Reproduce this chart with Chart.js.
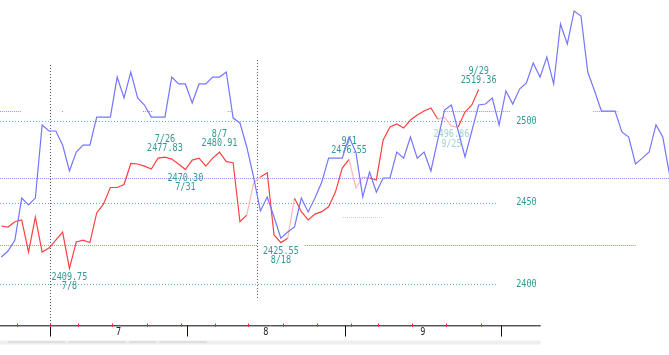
<!DOCTYPE html>
<html>
<head>
<meta charset="utf-8">
<script src="https://cdn.jsdelivr.net/npm/chart.js@4"></script>
<style>
  html, body { margin: 0; padding: 0; background: #fff; }
  #wrap { width: 669px; height: 355px; }
</style>
</head>
<body>
<div id="wrap"><canvas id="chart" width="669" height="355"></canvas></div>
<script>
// one value per trading day (index 0 = left edge)
const blueValues = [
  2416.7, 2420.4, 2427.1, 2452.8, 2448.6, 2452.8, 2497.6, 2493.9, 2493.9, 2485.3,
  2469.4, 2481.0, 2485.3, 2485.3, 2502.4, 2502.4, 2502.4, 2526.9, 2514.1, 2530.0,
  2514.1, 2509.8, 2502.4, 2502.4, 2502.4, 2526.9, 2522.7, 2522.7, 2511.0, 2522.7,
  2522.7, 2526.9, 2526.9, 2530.0, 2501.8, 2498.8, 2484.1, 2465.7, 2444.9, 2453.5,
  2441.2, 2428.3, 2432.0, 2435.1, 2452.8, 2444.3, 2452.8, 2462.6, 2477.3, 2477.3,
  2477.3, 2490.2, 2481.0, 2453.5, 2468.8, 2456.5, 2465.1, 2465.1, 2481.0, 2477.3,
  2490.2, 2477.3, 2481.0, 2469.4, 2488.4, 2506.7, 2509.8, 2493.9, 2478.0, 2493.9,
  2509.8, 2510.4, 2514.1, 2497.6, 2518.4, 2510.4, 2519.6, 2523.3, 2535.5, 2526.9,
  2539.2, 2522.7, 2559.4, 2547.2, 2567.4, 2564.3, 2530.0, 2518.4, 2506.1, 2506.1,
  2506.1, 2493.3, 2490.2, 2473.7, 2477.3, 2481.0, 2497.6, 2490.2, 2466.9
];
const redValues = [
  2435.7, 2435.1, 2438.3, 2439.4, 2419.8, 2441.2, 2419.8, 2422.2, 2427.1, 2432.0,
  2409.75, 2425.9, 2427.1, 2425.6, 2443.7, 2449.2, 2459.3, 2459.3, 2461.1, 2474.0,
  2473.7, 2472.4, 2470.6, 2477.3, 2477.83, 2476.7, 2473.7, 2470.30, 2476.1, 2477.3,
  2472.4, 2477.3, 2480.91, 2475.1, 2474.5, 2438.3, 2442.4, 2462.0, 2465.7, 2468.3,
  2430.2, 2425.55, 2428.2, 2452.7, 2444.5, 2439.4, 2443.0, 2444.5, 2447.5, 2456.5,
  2471.2, 2476.55, 2459.0, 2465.7, 2465.1, 2463.9, 2488.4, 2496.3, 2498.2, 2495.7,
  2500.6, 2503.7, 2506.1, 2508.0, 2501.2, 2502.4, 2496.86, 2496.3, 2505.5, 2509.8,
  2519.36
];
// red segments drawn in a faded tone (index of segment start)
const fadedRed = [36, 37, 42, 51, 52, 53, 64, 65, 66];

// high / low marks on the red line
const markIdx = [10, 24, 27, 32, 41, 51, 66, 70];
const markDates = ['7/8', '7/26', '7/31', '8/7', '8/18', '9/1', '9/25', '9/29'];
const markHigh = [false, true, false, true, false, true, false, true];
const markFaded = ['9/25'];

// price grid
const priceTicks = [2400, 2450, 2500];
const priceGridEnd = 72.7;
const priceLabelAt = 75.5;

// purple dotted level lines and where they show
const levelValues = [2506.3, 2464.9, 2423.9, 2441.4];
const levelSpans = [
  [[-0.2, 3.0], [8.9, 9.1], [20.8, 22.3], [33.2, 33.8], [64.8, 74.6], [86.8, 90.4]],
  [[-0.2, 98]],
  [[-0.2, 37.6], [44.5, 93.1]],
  [[50.1, 55.8]]
];

// vertical dotted markers
const vLineAt = [7.15, 37.55];
const vLineTop = [2534.3, 2537.4];
const vLineBottom = [2375.1, 2390.4];

// x axis
const monthBounds = [7.15, 27.25, 50.35, 73.3];
const monthLabels = ['7', '8', '9'];
const weekTicks = [2.3, 7.15, 11.25, 16.25, 21.35, 26.35, 31.35, 36.2, 41.3, 46.3, 51.3, 55.25, 60.2, 65.2, 70.3];
const axisEnd = 79.1;
const barSegs = [[1.0, 9.35], [9.85, 18.3], [18.8, 22.7], [23.2, 30.1]];

const TEAL = '#2f9a94';
const FONT = "10px 'DejaVu Sans Mono'";

function squeezeText(ctx, text, x, y, align) {
    ctx.save();
    ctx.translate(x, y);
    ctx.scale(0.85, 1);
    ctx.textAlign = align || 'center';
    ctx.textBaseline = 'middle';
    ctx.fillText(text, 0, 0);
    ctx.restore();
}

const decor = {
    id: 'decor',
    beforeDatasetsDraw(chart) {
        const ctx = chart.ctx;
        const xs = chart.scales.x, ys = chart.scales.y;
        ctx.save();
        ctx.lineWidth = 1;

        // teal price grid
        ctx.strokeStyle = '#5ab3ad';
        ctx.setLineDash([1, 2]);
        priceTicks.forEach(v => {
            const y = Math.round(ys.getPixelForValue(v)) + 0.5;
            ctx.beginPath();
            ctx.moveTo(xs.getPixelForValue(xs.min), y);
            ctx.lineTo(xs.getPixelForValue(priceGridEnd), y);
            ctx.stroke();
        });
        ctx.fillStyle = TEAL;
        ctx.font = FONT;
        priceTicks.forEach(v => {
            squeezeText(ctx, String(v), xs.getPixelForValue(priceLabelAt), ys.getPixelForValue(v), 'left');
        });

        // purple level lines
        ctx.setLineDash([1, 1]);
        levelValues.forEach((v, i) => {
            ctx.strokeStyle = i === 3 ? '#c9c9ff' : '#8f8fff';
            const y = Math.round(ys.getPixelForValue(v)) + 0.5;
            levelSpans[i].forEach(s => {
                ctx.beginPath();
                ctx.moveTo(xs.getPixelForValue(s[0]), y);
                ctx.lineTo(xs.getPixelForValue(s[1]), y);
                ctx.stroke();
            });
        });

        // vertical markers
        ctx.strokeStyle = '#555';
        ctx.setLineDash([1, 2]);
        vLineAt.forEach((k, i) => {
            const x = Math.round(xs.getPixelForValue(k)) + 0.5;
            ctx.beginPath();
            ctx.moveTo(x, ys.getPixelForValue(vLineTop[i]));
            ctx.lineTo(x, ys.getPixelForValue(vLineBottom[i]));
            ctx.stroke();
        });
        ctx.setLineDash([]);

        // high / low labels
        ctx.font = FONT;
        markIdx.forEach((k, n) => {
            const px = xs.getPixelForValue(k);
            const py = ys.getPixelForValue(redValues[k]);
            const val = redValues[k].toFixed(2);
            const date = markDates[n];
            ctx.fillStyle = markFaded.includes(date) ? '#9fd3cf' : TEAL;
            if (markHigh[n]) {
                squeezeText(ctx, date, px, py - 18);
                squeezeText(ctx, val, px, py - 8.5);
            } else {
                squeezeText(ctx, val, px, py + 8.5);
                squeezeText(ctx, date, px, py + 18);
            }
        });
        ctx.restore();
    },
    afterDraw(chart) {
        const ctx = chart.ctx;
        const xs = chart.scales.x;
        const area = chart.chartArea;
        const x0 = xs.getPixelForValue(xs.min);
        const x1 = xs.getPixelForValue(axisEnd);
        const yAxis = Math.round(area.bottom) + 0.5;
        ctx.save();

        // bottom strip
        ctx.fillStyle = '#eeeeee';
        ctx.fillRect(x0, yAxis + 15, x1 - x0, 4);
        ctx.fillStyle = '#cfcfcf';
        barSegs.forEach(s => {
            const a = xs.getPixelForValue(s[0]), b = xs.getPixelForValue(s[1]);
            ctx.fillRect(a, yAxis + 16, b - a, 1);
        });

        // axis line
        ctx.lineWidth = 1;
        ctx.strokeStyle = '#555';
        ctx.beginPath();
        ctx.moveTo(x0, yAxis);
        ctx.lineTo(x1, yAxis);
        ctx.stroke();
        ctx.strokeStyle = '#b0b0b0';
        ctx.beginPath();
        ctx.moveTo(x0, yAxis + 1);
        ctx.lineTo(x1, yAxis + 1);
        ctx.stroke();

        // month ticks
        ctx.strokeStyle = '#111';
        monthBounds.forEach(k => {
            const x = Math.round(xs.getPixelForValue(k)) + 0.5;
            ctx.beginPath();
            ctx.moveTo(x, yAxis);
            ctx.lineTo(x, yAxis + 11);
            ctx.stroke();
        });

        // weekly ticks
        ctx.strokeStyle = '#ff2a2a';
        weekTicks.forEach(k => {
            const x = Math.round(xs.getPixelForValue(k)) + 0.5;
            ctx.beginPath();
            ctx.moveTo(x, yAxis - 2);
            ctx.lineTo(x, yAxis + 1.5);
            ctx.stroke();
        });

        // month labels
        ctx.fillStyle = '#222';
        ctx.font = FONT;
        monthLabels.forEach((t, i) => {
            const mid = (monthBounds[i] + monthBounds[i + 1]) / 2;
            squeezeText(ctx, t, xs.getPixelForValue(mid), yAxis + 7);
        });
        ctx.restore();
    }
};

const ctx = document.getElementById('chart').getContext('2d');
new Chart(ctx, {
    type: 'line',
    data: {
        datasets: [
            {
                label: 'blue',
                data: blueValues.map((v, i) => ({ x: i, y: v })),
                borderColor: '#7575ff',
                borderWidth: 1.2,
                pointRadius: 0,
                tension: 0,
                order: 0
            },
            {
                label: 'red',
                data: redValues.map((v, i) => ({ x: i, y: v })),
                borderColor: '#ff4040',
                borderWidth: 1.2,
                pointRadius: 0,
                tension: 0,
                order: 1,
                segment: {
                    borderColor: c => fadedRed.includes(c.p0DataIndex) ? '#ffb6b6' : undefined
                }
            }
        ]
    },
    options: {
        responsive: false,
        animation: false,
        devicePixelRatio: 1,
        layout: { padding: { left: 0, right: 0, top: 0, bottom: 30 } },
        scales: {
            x: { type: 'linear', min: -0.182, max: 97.91, display: false },
            y: { type: 'linear', min: 2375.1, max: 2574.1, display: false }
        },
        plugins: {
            legend: { display: false },
            tooltip: { enabled: false }
        }
    },
    plugins: [decor]
});
</script>
</body>
</html>
